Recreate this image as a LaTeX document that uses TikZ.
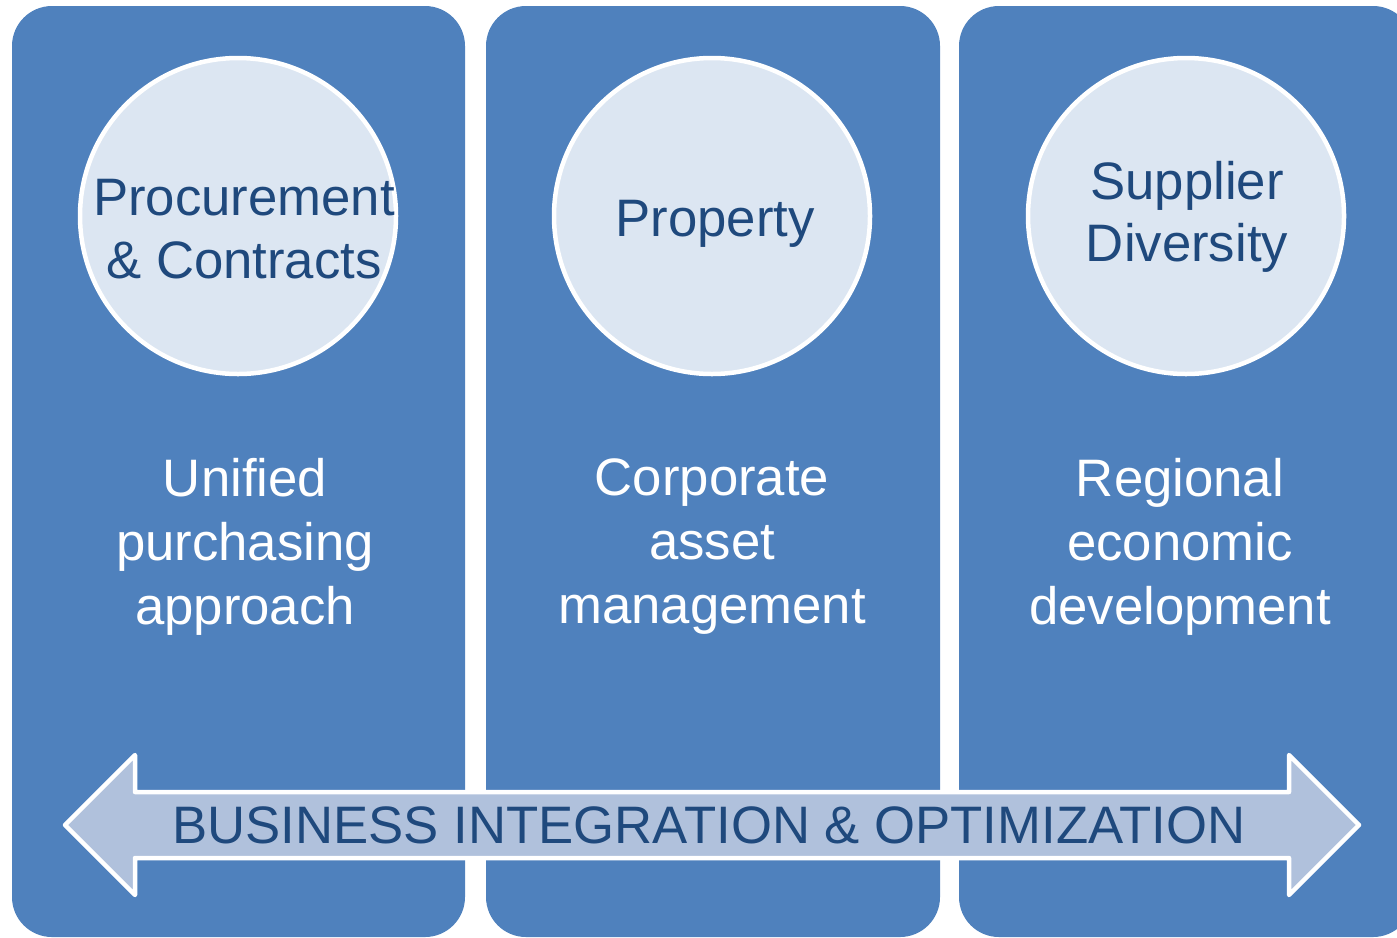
\documentclass[tikz,border=0pt]{standalone}
\usepackage{fontspec}
\setmainfont{Liberation Sans}
\usepackage{tikz}
\definecolor{colblue}{HTML}{4F81BD}
\definecolor{bubblefill}{HTML}{DCE6F2}
\definecolor{bannerfill}{HTML}{B0C1DC}
\definecolor{darktext}{HTML}{1F497D}
\begin{document}
\begin{tikzpicture}[x = 0.1mm, y = -0.1mm,
  column/.style = {fill = colblue, rounded corners = 4mm},
  bubble/.style = {circle, draw = white, line width = 0.45mm, fill = bubblefill, minimum size = 31.6mm, inner sep = 0pt},
  bubbletext/.style = {align = center, text = darktext, font = \fontsize{15}{17.8}\selectfont},
  bodytext/.style = {align = center, text = white, font = \fontsize{15}{18.2}\selectfont}]
\useasboundingbox (0,0) rectangle (1397,937);
\fill [column] (12,6) rectangle (465,937);
\fill [column] (486,6) rectangle (940,937);
\fill [column] (959,6) rectangle (1413,937);
\node [bubble] (proc) at (238,216) {};
\node [bubble] (prop) at (712,216) {};
\node [bubble] (supp) at (1186,216) {};
\node [bubbletext] (proctext) at (244,229) {Procurement\\\& Contracts};
\node [bubbletext] (proptext) at (715,224) {Property};
\node [bubbletext] (supptext) at (1187,217) {Supplier\\Diversity};
\node [bodytext] (unified) at (245,547) {Unified\\purchasing\\approach};
\node [bodytext] (corporate) at (712,547) {Corporate\\asset\\management};
\node [bodytext] (regional) at (1180,547) {Regional\\economic\\development};
\draw [white, line width = 0.45mm, line join = round, fill = bannerfill]
  (65,825) -- (135,755) -- (135,792) -- (1289,792) -- (1289,755) -- (1359,825)
  -- (1289,895) -- (1289,858) -- (135,858) -- (135,895) -- cycle;
\node [text = darktext, font = \fontsize{15}{17.8}\selectfont] (banner) at (709,825) {BUSINESS INTEGRATION \& OPTIMIZATION};
\end{tikzpicture}
\end{document}
